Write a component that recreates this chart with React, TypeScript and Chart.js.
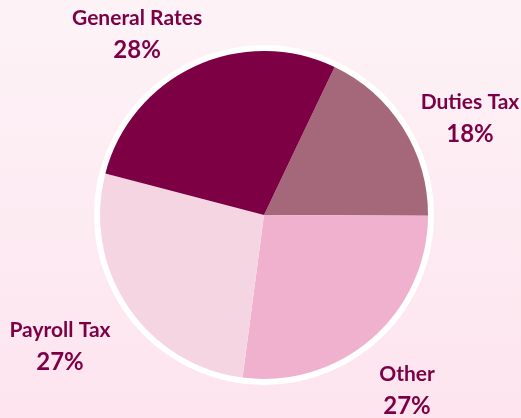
import React, { useEffect, useRef } from "react";
import { Chart, registerables } from "chart.js";

Chart.register(...registerables);

const categories = ["Duties Tax", "Other", "Payroll Tax", "General Rates"];
const shares = [18, 27, 27, 28];
const colors = ["#a5687b", "#f0b1cf", "#f6d5e2", "#7e0044"];
// label block centres, relative to pie centre, in units of the radius
const labelAnchors = [
  [1.256, -0.591],
  [0.872, 1.067],
  [-1.244, 0.799],
  [-0.774, -1.104],
];

const TEXT_COLOR = "#7c0046";
const FONT_NAME = "bold 21px Lato, 'Open Sans', sans-serif";
const FONT_PCT = "bold 24px Lato, 'Open Sans', sans-serif";

const ringPlugin = {
  id: "ring",
  beforeDatasetsDraw(chart: any) {
    const meta = chart.getDatasetMeta(0);
    const arc = meta.data[0];
    if (!arc) return;
    const { x, y, outerRadius } = arc.getProps(["x", "y", "outerRadius"], true);
    const ctx = chart.ctx;
    ctx.save();
    ctx.beginPath();
    ctx.arc(x, y, outerRadius + 6, 0, Math.PI * 2);
    ctx.fillStyle = "#ffffff";
    ctx.fill();
    ctx.restore();
  },
};

const labelPlugin = {
  id: "pieLabels",
  afterDatasetsDraw(chart: any) {
    const meta = chart.getDatasetMeta(0);
    const ctx = chart.ctx;
    const data = chart.data.datasets[0].data as number[];
    const total = data.reduce((a, b) => a + b, 0);
    ctx.save();
    ctx.fillStyle = TEXT_COLOR;
    ctx.textAlign = "center";
    ctx.textBaseline = "middle";
    meta.data.forEach((arc: any, i: number) => {
      const { x, y, outerRadius } = arc.getProps(["x", "y", "outerRadius"], true);
      const [ax, ay] = labelAnchors[i];
      const cx = x + ax * outerRadius;
      const cy = y + ay * outerRadius;
      ctx.font = FONT_NAME;
      ctx.fillText(String(chart.data.labels[i]), cx, cy - 16);
      ctx.font = FONT_PCT;
      ctx.fillText(Math.round((data[i] / total) * 100) + "%", cx, cy + 16);
    });
    ctx.restore();
  },
};

export default function App() {
  const ref = useRef<HTMLCanvasElement>(null);
  useEffect(() => {
    document.body.style.margin = "0";
    const chart = new Chart(ref.current!, {
      type: "pie",
      data: {
        labels: categories,
        datasets: [
          {
            data: shares,
            backgroundColor: colors,
            borderWidth: 0,
          },
        ],
      },
      options: {
        responsive: false,
        animation: false,
        rotation: 25.5,
        layout: { padding: { top: 51, bottom: 39, left: 100, right: 93 } },
        plugins: {
          legend: { display: false },
          tooltip: { enabled: false },
        },
      },
      plugins: [ringPlugin, labelPlugin],
    });
    return () => chart.destroy();
  }, []);
  return (
    <div
      style={{
        width: 521,
        height: 418,
        background: "linear-gradient(to bottom, #fdf3f7, #fde4ee)",
      }}
    >
      <canvas ref={ref} width={521} height={418} />
    </div>
  );
}
